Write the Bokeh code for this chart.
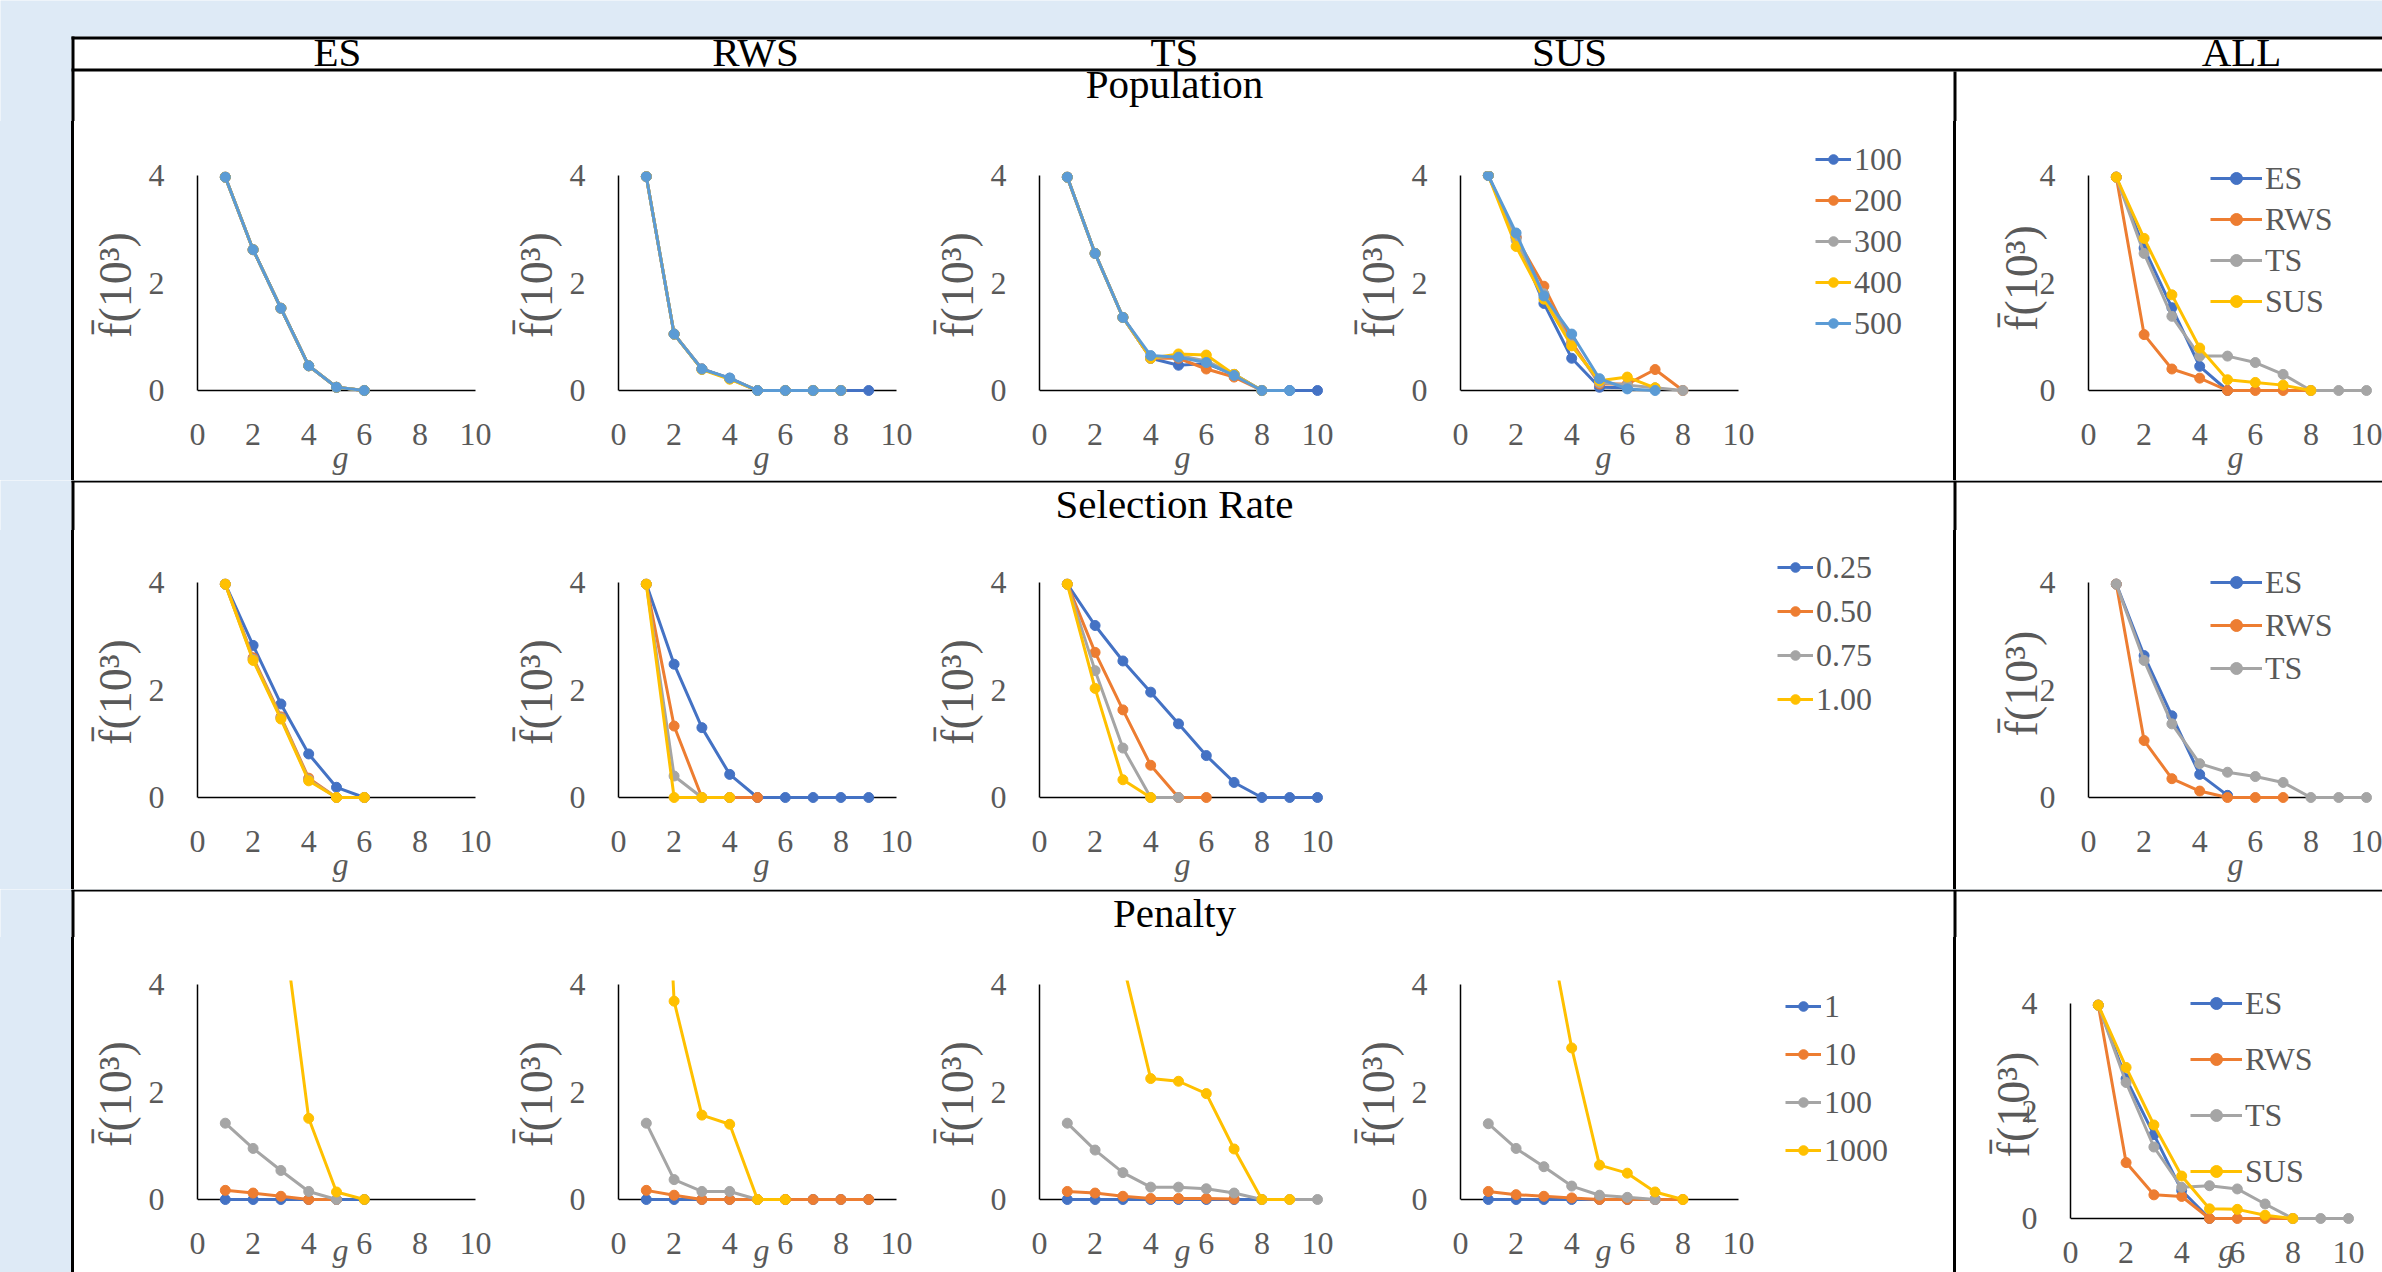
import numpy as np
from bokeh.plotting import figure
from bokeh.layouts import row, column
from bokeh.models import (Range1d, FixedTicker, Legend, LegendItem, Spacer,
                          ColumnDataSource)
from bokeh.embed import file_html
from bokeh.resources import INLINE
from bokeh.core.properties import value

NAN = float("nan")

# ---------------- data (unit = 10^3) ----------------
g_ticks = [0, 2, 4, 6, 8, 10]
f_ticks = [0, 2, 4]
col_headers = ["ES", "RWS", "TS", "SUS", "ALL"]
row_titles = ["Population", "Selection Rate", "Penalty"]

pop_names = ["100", "200", "300", "400", "500"]
pop_es = [
    [3.97, 2.62, 1.53, 0.46, 0.06, 0.0],
    [3.97, 2.62, 1.53, 0.46, 0.06, 0.0],
    [3.97, 2.62, 1.53, 0.46, 0.06, 0.0],
    [3.97, 2.62, 1.53, 0.46, 0.06, 0.0],
    [3.97, 2.62, 1.53, 0.46, 0.06, 0.0],
]
pop_rws = [
    [3.98, 1.05, 0.40, 0.23, 0.0, 0.0, 0.0, 0.0, 0.0],
    [3.98, 1.05, 0.40, 0.22, 0.0, 0.0, 0.0, 0.0],
    [3.98, 1.05, 0.40, 0.22, 0.0, 0.0, 0.0, 0.0],
    [3.98, 1.05, 0.39, 0.21, 0.0, 0.0, 0.0, 0.0],
    [3.98, 1.05, 0.40, 0.23, 0.0, 0.0, 0.0, 0.0],
]
pop_ts = [
    [3.97, 2.55, 1.36, 0.60, 0.47, 0.50, 0.30, 0.0, 0.0, 0.0],
    [3.97, 2.55, 1.36, 0.60, 0.60, 0.40, 0.25, 0.0],
    [3.97, 2.55, 1.36, 0.60, 0.65, 0.55, 0.30, 0.0],
    [3.97, 2.55, 1.36, 0.60, 0.68, 0.66, 0.30, 0.0],
    [3.97, 2.55, 1.36, 0.65, 0.62, 0.52, 0.28, 0.0, 0.0],
]
pop_sus = [
    [4.0, 2.85, 1.62, 0.60, 0.06, 0.05],
    [4.0, 2.85, 1.94, 0.90, 0.12, 0.12, 0.39, 0.0],
    [4.0, 2.80, 1.80, 0.85, 0.15, 0.10, 0.05, 0.0],
    [4.0, 2.68, 1.70, 0.83, 0.18, 0.25, 0.05],
    [4.0, 2.93, 1.76, 1.05, 0.22, 0.03, 0.0],
]
all_names = ["ES", "RWS", "TS", "SUS"]
pop_all = [
    [3.97, 2.65, 1.54, 0.45, 0.0],
    [3.97, 1.04, 0.40, 0.23, 0.0, 0.0, 0.0, 0.0],
    [3.97, 2.55, 1.38, 0.64, 0.64, 0.52, 0.30, 0.0, 0.0, 0.0],
    [3.97, 2.83, 1.78, 0.79, 0.20, 0.15, 0.10, 0.0],
]

sel_names = ["0.25", "0.50", "0.75", "1.00"]
sel_es = [
    [3.97, 2.83, 1.74, 0.81, 0.19, 0.0],
    [3.97, 2.60, 1.50, 0.36, 0.0, 0.0],
    [3.97, 2.57, 1.48, 0.33, 0.0, 0.0],
    [3.97, 2.55, 1.46, 0.31, 0.0, 0.0],
]
sel_rws = [
    [3.97, 2.48, 1.30, 0.43, 0.0, 0.0, 0.0, 0.0, 0.0],
    [3.97, 1.33, 0.0, 0.0, 0.0],
    [3.97, 0.40, 0.0, 0.0],
    [3.97, 0.0, 0.0, 0.0],
]
sel_ts = [
    [3.97, 3.20, 2.54, 1.96, 1.37, 0.78, 0.28, 0.0, 0.0, 0.0],
    [3.97, 2.70, 1.63, 0.60, 0.0, 0.0],
    [3.97, 2.36, 0.92, 0.0, 0.0],
    [3.97, 2.03, 0.33, 0.0],
]
sel_all = [
    [3.97, 2.64, 1.52, 0.43, 0.04],
    [3.97, 1.06, 0.35, 0.12, 0.0, 0.0, 0.0],
    [3.97, 2.55, 1.37, 0.63, 0.47, 0.39, 0.28, 0.0, 0.0, 0.0],
]

pen_names = ["1", "10", "100", "1000"]
pen_es = [
    [0.0, 0.0, 0.0, 0.0, 0.0, 0.0],
    [0.17, 0.12, 0.06, 0.0, 0.0],
    [1.42, 0.95, 0.54, 0.15, 0.0],
    [NAN, NAN, 5.5, 1.51, 0.14, 0.0],
]
pen_rws = [
    [0.0, 0.0, 0.0, 0.0, 0.0, 0.0, 0.0, 0.0, 0.0],
    [0.17, 0.08, 0.0, 0.0, 0.0, 0.0, 0.0, 0.0, 0.0],
    [1.42, 0.37, 0.15, 0.15, 0.0],
    [14.0, 3.69, 1.57, 1.40, 0.0, 0.0],
]
pen_ts = [
    [0.0, 0.0, 0.0, 0.0, 0.0, 0.0, 0.0, 0.0],
    [0.15, 0.12, 0.06, 0.02, 0.02, 0.02, 0.01],
    [1.42, 0.92, 0.50, 0.23, 0.23, 0.20, 0.12, 0.0, 0.0, 0.0],
    [NAN, NAN, 4.4, 2.25, 2.20, 1.97, 0.94, 0.0, 0.0],
]
pen_sus = [
    [0.0, 0.0, 0.0, 0.0, 0.0, 0.0, 0.0],
    [0.15, 0.09, 0.06, 0.03, 0.0, 0.0, 0.0, 0.0],
    [1.41, 0.95, 0.61, 0.25, 0.08, 0.04, 0.0],
    [NAN, NAN, 5.56, 2.82, 0.64, 0.49, 0.14, 0.0],
]
pen_all = [
    [3.97, 2.60, 1.56, 0.52, 0.0],
    [3.97, 1.04, 0.44, 0.41, 0.0, 0.0, 0.0, 0.0],
    [3.97, 2.53, 1.33, 0.58, 0.61, 0.55, 0.27, 0.0, 0.0, 0.0],
    [3.97, 2.81, 1.74, 0.79, 0.18, 0.17, 0.06, 0.0],
]

# ---------------- styling ----------------
BLUE, ORANGE, GRAY, YELLOW, LBLUE = "#4472C4", "#ED7D31", "#A5A5A5", "#FFC000", "#5B9BD5"
COLORS = [BLUE, ORANGE, GRAY, YELLOW, LBLUE]
BG = "#DEEAF6"
TICK = "#595959"
SERIF = "Liberation Serif"
KX = 27.8     # px per g unit
KY = 53.75    # px per 10^3 unit
LABEL_H = 38


def series_sources(series):
    return [ColumnDataSource(dict(g=np.arange(1, len(v) + 1, dtype=float),
                                  f=np.array(v, dtype=float))) for v in series]


def draw_series(p, sources, names, lw=3, ms=10):
    items = []
    for src, name, col in zip(sources, names, COLORS):
        r1 = p.line("g", "f", source=src, line_color=col, line_width=lw)
        r2 = p.scatter("g", "f", source=src, size=ms, fill_color=col, line_color=col)
        items.append(LegendItem(label=name, renderers=[r1, r2]))
    return items


def add_legend(p, items, vx, vy, pitch, gw, gh):
    leg = Legend(items=items, location=(int(round(vx)), int(round(vy))),
                 orientation="vertical", background_fill_alpha=0, border_line_color=None,
                 padding=0, margin=0, spacing=int(round(pitch - LABEL_H)),
                 glyph_width=gw, glyph_height=gh, label_height=LABEL_H,
                 label_standoff=3, label_text_font=SERIF,
                 label_text_font_size="32px", label_text_color=TICK)
    p.add_layout(leg)


def make_panel(sources, names, fx, fy, w, h, sx0, y4, ft, fb, fr,
               legend=None, ylab_standoff=5, xstand=25, xlab_standoff=-9):
    left = sx0 - fx
    top = ft - fy
    bottom = fy + h - fb
    right = fx + w - fr
    p = figure(width=w, height=h,
               x_range=Range1d(0, (fr - sx0) / KX),
               y_range=Range1d(4 - (fb - y4) / KY, 4 + (y4 - ft) / KY),
               output_backend="svg", toolbar_location=None, title=None,
               min_border_left=left, min_border_right=right,
               min_border_top=top, min_border_bottom=bottom)
    p.background_fill_color = "white"
    p.border_fill_color = "white"
    p.outline_line_color = None
    p.xgrid.visible = False
    p.ygrid.visible = False
    xa, ya = p.xaxis[0], p.yaxis[0]
    xa.ticker = FixedTicker(ticks=g_ticks)
    ya.ticker = FixedTicker(ticks=f_ticks)
    xa.bounds = (g_ticks[0], g_ticks[-1])
    ya.bounds = (f_ticks[0], f_ticks[-1])
    for ax in (xa, ya):
        ax.major_tick_line_color = None
        ax.minor_tick_line_color = None
        ax.major_tick_out = 0
        ax.major_tick_in = 0
        ax.minor_tick_out = 0
        ax.minor_tick_in = 0
        ax.major_label_text_font = SERIF
        ax.major_label_text_font_size = "32px"
        ax.major_label_text_color = TICK
        ax.axis_label_text_font = SERIF
        ax.axis_label_text_color = TICK
        ax.axis_label_text_font_style = "normal"
    xa.axis_line_color = None
    ya.axis_line_color = "black"
    ya.axis_line_width = 1.5
    xa.axis_label = "g"
    xa.axis_label_text_font_style = "italic"
    xa.axis_label_text_font_size = "32px"
    xa.axis_label_standoff = xlab_standoff
    xa.major_label_standoff = xstand
    ya.axis_label = "f\u0304(10\u00b3)"
    ya.axis_label_text_font_size = "46px"
    ya.major_label_standoff = 33
    ya.axis_label_standoff = ylab_standoff

    # horizontal axis baseline at f = 0, spanning the g ticks
    p.segment(x0=[g_ticks[0]], y0=[f_ticks[0]], x1=[g_ticks[-1]], y1=[f_ticks[0]],
              line_color="black", line_width=1.5)

    items = draw_series(p, sources, names)
    if legend is not None:
        gl, first_c, pitch, gw, gh = legend
        leg_bottom = first_c + (len(items) - 1) * pitch + LABEL_H / 2
        add_legend(p, items, gl - sx0, fb - leg_bottom, pitch, gw, gh)
    return p


def legend_panel(sources, names, fx, fy, w, h, gl, first_c, pitch, gw=36, gh=24):
    """White cell area holding the series key (renderers share the panel's sources,
    kept outside this cell's visible ranges)."""
    p = figure(width=w, height=h, x_range=Range1d(-3, -2), y_range=Range1d(-3, -2),
               output_backend="svg", toolbar_location=None, title=None, min_border=0)
    p.xaxis.visible = False
    p.yaxis.visible = False
    p.xgrid.visible = False
    p.ygrid.visible = False
    p.outline_line_color = None
    p.background_fill_color = "white"
    p.border_fill_color = "white"
    items = draw_series(p, sources, names)
    leg_bottom = first_c + (len(items) - 1) * pitch + LABEL_H / 2
    add_legend(p, items, gl - fx, fy + h - leg_bottom, pitch, gw, gh)
    return p


def strip(y0, y1, texts, xs, ys, top_border=None, lines=()):
    """Full-width band of the table: blue margin, white cells, black rules, texts."""
    h = y1 - y0
    p = figure(width=2382, height=h, x_range=Range1d(0, 2382), y_range=Range1d(y1, y0),
               output_backend="svg", toolbar_location=None, title=None, min_border=0)
    p.xaxis.visible = False
    p.yaxis.visible = False
    p.xgrid.visible = False
    p.ygrid.visible = False
    p.outline_line_color = None
    p.background_fill_color = BG
    p.border_fill_color = BG
    white_top = top_border if top_border is not None else y0
    p.quad(left=[71], right=[2382], top=[white_top], bottom=[y1], fill_color="white", line_color=None)
    L, R, T, B = zip(*lines)
    p.quad(left=list(L), right=list(R), top=list(T), bottom=list(B),
           fill_color="black", line_color=None)
    p.text(x=xs, y=ys, text=texts, text_font=value(SERIF),
           text_font_size=value("41px"), text_align="center", text_baseline="middle",
           text_color="black")
    return p


def black(w, h):
    return Spacer(width=w, height=h, styles={"background-color": "black"})


def blue(w, h):
    return Spacer(width=w, height=h, styles={"background-color": BG})


# ---- top band: header row + "Population" title ----
top = strip(0, 121, col_headers + [row_titles[0]],
            [337, 755, 1174, 1569, 2241, 1174], [51, 51, 51, 51, 51, 83],
            top_border=36,
            lines=[(71, 2382, 36, 39), (71, 2382, 68, 71), (71, 74, 36, 121), (1953, 1956, 71, 121)])

# ---------------- row 1 : Population ----------------
R1 = dict(fy=121, h=359, y4=175, ft=171, fb=398)
s_pop_es, s_pop_rws = series_sources(pop_es), series_sources(pop_rws)
s_pop_ts, s_pop_sus = series_sources(pop_ts), series_sources(pop_sus)
s_pop_all = series_sources(pop_all)
es1 = make_panel(s_pop_es, pop_names, fx=74, w=421, sx0=197, fr=483, **R1)
rws1 = make_panel(s_pop_rws, pop_names, fx=495, w=421, sx0=618, fr=904, **R1)
ts1 = make_panel(s_pop_ts, pop_names, fx=916, w=421, sx0=1039, fr=1325, **R1)
sus1 = make_panel(s_pop_sus, pop_names, fx=1337, w=421, sx0=1460, fr=1746, **R1)
leg1 = legend_panel(s_pop_sus, pop_names, fx=1758, fy=121, w=195, h=359,
                    gl=1815, first_c=159, pitch=41)
all1 = make_panel(s_pop_all, all_names, fx=1956, w=426, sx0=2088, fr=2382,
                  fy=121, h=359, y4=175, ft=157, fb=398, ylab_standoff=-10,
                  legend=(2210, 178, 41, 52, 30))

strip2 = strip(480, 530, [row_titles[1]], [1174], [503],
               lines=[(71, 2382, 480, 482), (71, 74, 480, 530), (1953, 1956, 480, 530)])

# ---------------- row 2 : Selection Rate ----------------
R2 = dict(fy=530, h=359, y4=582, ft=578, fb=805)
s_sel_es, s_sel_rws = series_sources(sel_es), series_sources(sel_rws)
s_sel_ts, s_sel_all = series_sources(sel_ts), series_sources(sel_all)
es2 = make_panel(s_sel_es, sel_names, fx=74, w=421, sx0=197, fr=483, **R2)
rws2 = make_panel(s_sel_rws, sel_names, fx=495, w=421, sx0=618, fr=904, **R2)
ts2 = make_panel(s_sel_ts, sel_names, fx=916, w=421, sx0=1039, fr=1325, **R2)
leg2 = legend_panel(s_sel_ts, sel_names, fx=1337, fy=530, w=616, h=359,
                    gl=1777, first_c=567, pitch=44)
all2 = make_panel(s_sel_all, all_names, fx=1956, w=426, sx0=2088, fr=2382,
                  fy=530, h=359, y4=582, ft=561, fb=805, ylab_standoff=-10,
                  legend=(2210, 582, 43, 52, 30))

strip3 = strip(889, 937, [row_titles[2]], [1174], [912],
               lines=[(71, 2382, 889, 891), (71, 74, 889, 937), (1953, 1956, 889, 937)])

# ---------------- row 3 : Penalty ----------------
R3 = dict(fy=937, h=335, y4=984, ft=980, fb=1207, xlab_standoff=-25)
s_pen_es, s_pen_rws = series_sources(pen_es), series_sources(pen_rws)
s_pen_ts, s_pen_sus = series_sources(pen_ts), series_sources(pen_sus)
s_pen_all = series_sources(pen_all)
es3 = make_panel(s_pen_es, pen_names, fx=74, w=421, sx0=197, fr=483, **R3)
rws3 = make_panel(s_pen_rws, pen_names, fx=495, w=421, sx0=618, fr=904, **R3)
ts3 = make_panel(s_pen_ts, pen_names, fx=916, w=421, sx0=1039, fr=1325, **R3)
sus3 = make_panel(s_pen_sus, pen_names, fx=1337, w=421, sx0=1460, fr=1746, **R3)
leg3 = legend_panel(s_pen_sus, pen_names, fx=1758, fy=937, w=195, h=335,
                    gl=1785, first_c=1006, pitch=48)
all3 = make_panel(s_pen_all, all_names, fx=1956, w=426, sx0=2070, fr=2382,
                  fy=937, h=335, y4=1003, ft=982, fb=1226, xstand=15, xlab_standoff=-34,
                  ylab_standoff=-20, legend=(2190, 1003, 56, 52, 30))

layout = column(
    top,
    row(blue(71, 359), black(3, 359), row(es1, rws1, ts1, sus1), column(leg1),
        black(3, 359), column(all1)),
    strip2,
    row(blue(71, 359), black(3, 359), row(es2, rws2, ts2), column(leg2),
        black(3, 359), column(all2)),
    strip3,
    row(blue(71, 335), black(3, 335), row(es3, rws3, ts3, sus3), column(leg3),
        black(3, 335), column(all3)),
)

open("out.html", "w").write(file_html(layout, INLINE))
